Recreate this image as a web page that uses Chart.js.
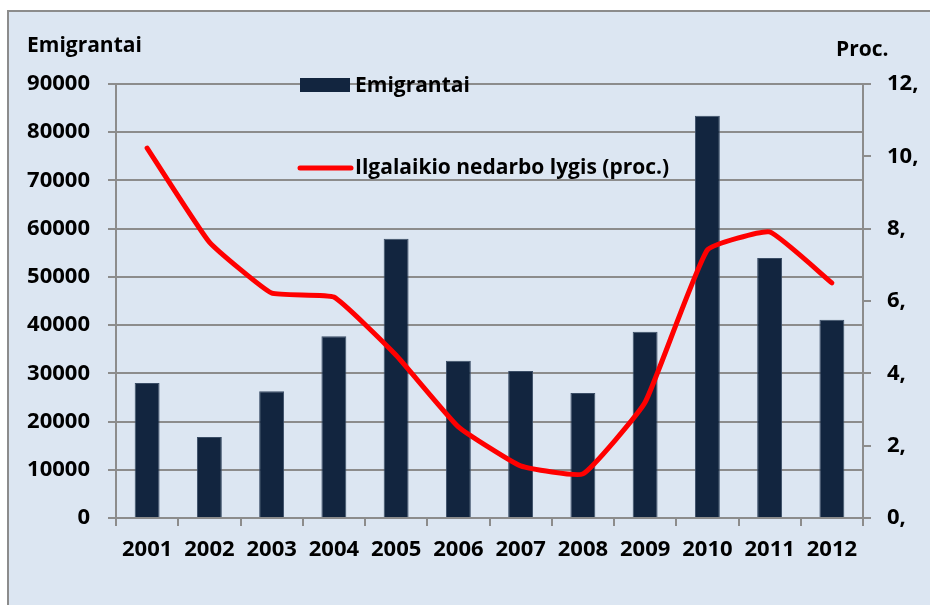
<!DOCTYPE html>
<html>
<head>
<meta charset="utf-8">
<script src="https://cdn.jsdelivr.net/npm/chart.js@4"></script>
<style>
    html, body { margin: 0; padding: 0; background: #ffffff; overflow: hidden; }
    #frame {
        position: absolute; left: 7px; top: 10px; width: 940px; height: 620px;
        background: #dce6f2; border-left: 2px solid #8c8c8c; border-top: 2px solid #8c8c8c;
    }
    #wrap { position: absolute; left: 0; top: 0; width: 930px; height: 605px; }
</style>
</head>
<body>
<div id="frame"></div>
<div id="wrap"><canvas id="emigChart" width="930" height="605"></canvas></div>
<script>
// Data
const years = ['2001', '2002', '2003', '2004', '2005', '2006', '2007', '2008', '2009', '2010', '2011', '2012'];
const emigrants = [28000, 16800, 26300, 37700, 57900, 32600, 30500, 25900, 38600, 83400, 53900, 41100];
const unemployment = [10.23, 7.63, 6.22, 6.11, 4.5, 2.52, 1.44, 1.22, 3.2, 7.41, 7.91, 6.5];

const barLabel = 'Emigrantai';
const lineLabel = 'Ilgalaikio nedarbo lygis (proc.)';

const fontFamily = '"Open Sans", "Liberation Sans", sans-serif';
const gridColor = '#8c8c8c';
const barColor = '#12253f';
const lineColor = '#ff0000';

// Titles over the axes and the legend inside the plot
const extrasPlugin = {
    id: 'extras',
    afterDraw(chart) {
        const ctx = chart.ctx;
        ctx.save();
        ctx.fillStyle = '#000';
        ctx.font = 'bold 21px ' + fontFamily;
        ctx.textBaseline = 'middle';
        ctx.textAlign = 'left';
        ctx.fillText('Emigrantai', 27, 46);
        ctx.fillText('Proc.', 836, 50);

        // legend
        ctx.fillStyle = barColor;
        ctx.fillRect(300, 78, 50, 14);
        ctx.strokeStyle = lineColor;
        ctx.lineWidth = 5;
        ctx.lineCap = 'round';
        ctx.beginPath();
        ctx.moveTo(300, 168);
        ctx.lineTo(351, 168);
        ctx.stroke();
        ctx.fillStyle = '#000';
        ctx.fillText(chart.data.datasets[1].label, 355, 86);
        ctx.fillText(chart.data.datasets[0].label, 355, 168);
        ctx.restore();
    }
};

const ctx = document.getElementById('emigChart').getContext('2d');
const emigChart = new Chart(ctx, {
    type: 'bar',
    data: {
        labels: years,
        datasets: [{
            type: 'line',
            label: lineLabel,
            data: unemployment,
            yAxisID: 'y1',
            borderColor: lineColor,
            borderWidth: 5,
            borderCapStyle: 'round',
            borderJoinStyle: 'round',
            pointRadius: 0,
            tension: 0.12,
            order: 0
        }, {
            label: barLabel,
            data: emigrants,
            yAxisID: 'y',
            backgroundColor: barColor,
            borderColor: '#3a4d66',
            borderWidth: 1,
            barPercentage: 0.8,
            categoryPercentage: 0.5,
            order: 1
        }]
    },
    options: {
        responsive: false,
        animation: false,
        layout: { padding: { left: 0, right: 0, top: 84, bottom: 0 } },
        plugins: {
            legend: { display: false },
            tooltip: { enabled: false }
        },
        scales: {
            x: {
                offset: true,
                grid: {
                    offset: true,
                    drawOnChartArea: false,
                    color: gridColor,
                    lineWidth: 2,
                    tickLength: 8
                },
                border: { color: gridColor, width: 2 },
                ticks: {
                    color: '#000',
                    padding: 11,
                    maxRotation: 0,
                    font: { family: fontFamily, size: 22, weight: 'bold' }
                },
                afterFit: function(scale) { scale.height = 87; }
            },
            y: {
                position: 'left',
                min: 0,
                max: 90000,
                ticks: {
                    stepSize: 10000,
                    color: '#000',
                    padding: 18,
                    font: { family: fontFamily, size: 22, weight: 'bold' },
                    callback: function(value) { return String(value); }
                },
                grid: { color: gridColor, lineWidth: 2, tickLength: 8 },
                border: { color: gridColor, width: 2 },
                afterFit: function(scale) { scale.width = 116; }
            },
            y1: {
                position: 'right',
                min: 0,
                max: 12,
                ticks: {
                    stepSize: 2,
                    color: '#000',
                    padding: 16,
                    font: { family: fontFamily, size: 22, weight: 'bold' },
                    callback: function(value) { return value + ','; }
                },
                grid: { drawOnChartArea: false, color: gridColor, lineWidth: 2, tickLength: 8 },
                border: { color: gridColor, width: 2 },
                afterFit: function(scale) { scale.width = 67; }
            }
        }
    },
    plugins: [extrasPlugin]
});
</script>
</body>
</html>
